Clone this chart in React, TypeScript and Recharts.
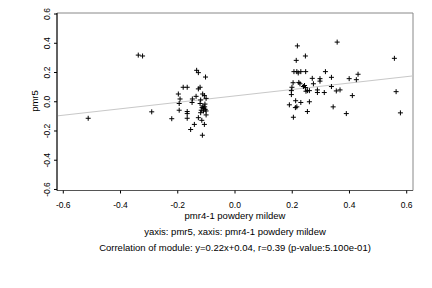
import { ScatterChart, Scatter, XAxis, YAxis, ReferenceLine, ReferenceArea } from "recharts";

// pmr4-1 powdery mildew (x) vs pmr5 (y)
const pmr4Values = [
  -0.513, -0.338, -0.323, -0.291, -0.221, -0.198, -0.192, -0.195, -0.195, -0.181,
  -0.167, -0.167, -0.167, -0.167, -0.155, -0.149, -0.15, -0.142, -0.136, -0.134,
  -0.128, -0.128, -0.122, -0.128, -0.12, -0.122, -0.116, -0.114, -0.113, -0.107,
  -0.101, -0.105, -0.115, -0.11, -0.118, -0.11, -0.104, -0.101, -0.107, -0.103,
  -0.101, -0.112, -0.106, -0.12,
  0.218, 0.357, 0.557, 0.246, 0.214, 0.206, 0.216, 0.221, 0.23, 0.247,
  0.316, 0.43, 0.27, 0.297, 0.297, 0.337, 0.399, 0.424, 0.203, 0.223,
  0.227, 0.274, 0.199, 0.239, 0.243, 0.246, 0.337, 0.197, 0.248, 0.253,
  0.26, 0.288, 0.288, 0.312, 0.354, 0.367, 0.563, 0.197, 0.41, 0.212,
  0.23, 0.26, 0.19, 0.211, 0.216, 0.343, 0.253, 0.389, 0.578, 0.204,
];
const pmr5Values = [
  -0.113, 0.319, 0.313, -0.069, -0.116, 0.053, 0.019, -0.012, -0.058, 0.099,
  0.099, -0.067, -0.081, -0.113, -0.19, 0.019, -0.005, -0.155, 0.037, 0.215,
  0.199, 0.088, 0.099, -0.109, 0.012, -0.012, -0.127, -0.229, 0.053, 0.042,
  0.023, -0.016, -0.04, -0.045, -0.058, -0.063, -0.052, -0.063, -0.155, 0.169,
  -0.09, -0.03, -0.035, -0.075,
  0.382, 0.408, 0.297, 0.313, 0.283, 0.206, 0.206, 0.197, 0.206, 0.206,
  0.206, 0.188, 0.16, 0.158, 0.141, 0.167, 0.158, 0.151, 0.13, 0.132,
  0.123, 0.123, 0.099, 0.104, 0.111, 0.097, 0.104, 0.076, 0.072, 0.076,
  0.076, 0.081, 0.063, 0.063, 0.074, 0.081, 0.069, 0.049, 0.042, 0.007,
  -0.005, 0, -0.021, -0.04, -0.035, -0.035, -0.067, -0.081, -0.076, -0.106,
];
const ticks = [-0.6, -0.4, -0.2, 0, 0.2, 0.4, 0.6];

const SLOPE = 0.22;
const INTERCEPT = 0.04;
const X_MIN = -0.622;
const X_MAX = 0.622;
const Y_MIN = -0.607;
const Y_MAX = 0.607;

const points = pmr4Values.map((x, i) => ({ x, y: pmr5Values[i] }));

const FONT = "'Liberation Sans', Arial, sans-serif";

function Plus(props: any) {
  const { cx, cy } = props;
  if (cx == null || cy == null) return null;
  return (
    <path
      d={`M${cx - 2.5},${cy} h5 M${cx},${cy - 2.5} v5`}
      stroke="#000"
      strokeWidth={1}
      fill="none"
    />
  );
}

function YTick(props: any) {
  const { x, y, payload } = props;
  const tx = x - 2;
  return (
    <text
      x={tx}
      y={y}
      transform={`rotate(-90, ${tx}, ${y})`}
      textAnchor="middle"
      fontSize={8.5}
      fontFamily={FONT}
      fill="#000"
    >
      {Number(payload.value).toFixed(1)}
    </text>
  );
}

const textStyle: React.CSSProperties = {
  position: "absolute",
  left: 57,
  width: 356,
  textAlign: "center",
  fontFamily: FONT,
  fontSize: 9.5,
  color: "#000",
  lineHeight: "12px",
};

export default function App() {
  return (
    <div style={{ position: "absolute", left: 0, top: 0, width: 432, height: 288, background: "#fff" }}>
      <ScatterChart
        width={432}
        height={288}
        margin={{ top: 13, right: 19, bottom: 67.5, left: 0 }}
      >
        <ReferenceArea
          x1={X_MIN}
          x2={X_MAX}
          y1={Y_MIN}
          y2={Y_MAX}
          fill="none"
          stroke="#888"
          strokeWidth={1}
          fillOpacity={0}
        />
        <XAxis
          type="number"
          dataKey="x"
          domain={[X_MIN, X_MAX]}
          ticks={ticks}
          allowDataOverflow
          height={30}
          tickSize={3}
          tickMargin={8}
          tickFormatter={(v: number) => v.toFixed(1)}
          tick={{ fontSize: 8.5, fontFamily: FONT, fill: "#000" }}
          axisLine={{ stroke: "#555" }}
          tickLine={{ stroke: "#000" }}
        />
        <YAxis
          type="number"
          dataKey="y"
          domain={[Y_MIN, Y_MAX]}
          ticks={ticks}
          allowDataOverflow
          width={57}
          tickSize={3}
          tickMargin={2}
          tick={<YTick />}
          axisLine={{ stroke: "#000" }}
          tickLine={{ stroke: "#000" }}
        />
        <ReferenceLine
          segment={[
            { x: X_MIN, y: SLOPE * X_MIN + INTERCEPT },
            { x: X_MAX, y: SLOPE * X_MAX + INTERCEPT },
          ]}
          stroke="#c8c8c8"
          strokeWidth={1}
        />
        <Scatter data={points} shape={<Plus />} isAnimationActive={false} />
      </ScatterChart>
      <div
        style={{
          position: "absolute",
          left: 35 - 20,
          top: 101 - 6,
          width: 40,
          textAlign: "center",
          fontFamily: FONT,
          fontSize: 9.5,
          lineHeight: "12px",
          transform: "rotate(-90deg)",
        }}
      >
        pmr5
      </div>
      <div style={{ ...textStyle, top: 210 }}>pmr4-1 powdery mildew</div>
      <div style={{ ...textStyle, top: 226 }}>yaxis: pmr5, xaxis: pmr4-1 powdery mildew</div>
      <div style={{ ...textStyle, top: 242 }}>
        Correlation of module: y=0.22x+0.04, r=0.39 (p-value:5.100e-01)
      </div>
    </div>
  );
}
